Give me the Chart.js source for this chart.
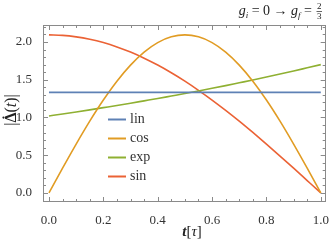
<!DOCTYPE html>
<html>
<head>
<meta charset="utf-8">
<script src="https://cdn.jsdelivr.net/npm/chart.js@4"></script>
<style>
  html, body { margin: 0; padding: 0; background: #fff; }
  #wrap { width: 332px; height: 243px; position: relative; }
</style>
</head>
<body>
<div id="wrap"><canvas id="chart"></canvas></div>
<script>
// time axis (in units of tau)
const tValues = [0, 0.05, 0.1, 0.15, 0.2, 0.25, 0.3, 0.35, 0.4, 0.45, 0.5,
                 0.55, 0.6, 0.65, 0.7, 0.75, 0.8, 0.85, 0.9, 0.95, 1];

// |dDelta/dt| for the four ramps
const linValues = [1.333, 1.333, 1.333, 1.333, 1.333, 1.333, 1.333, 1.333, 1.333, 1.333, 1.333,
                   1.333, 1.333, 1.333, 1.333, 1.333, 1.333, 1.333, 1.333, 1.333, 1.333];
const cosValues = [0, 0.328, 0.647, 0.951, 1.231, 1.481, 1.694, 1.866, 1.992, 2.068, 2.094,
                   2.068, 1.992, 1.866, 1.694, 1.481, 1.231, 0.951, 0.647, 0.328, 0];
const expValues = [1.02, 1.046, 1.073, 1.101, 1.13, 1.159, 1.189, 1.22, 1.251, 1.284, 1.317,
                   1.351, 1.386, 1.422, 1.459, 1.496, 1.535, 1.575, 1.616, 1.658, 1.7];
const sinValues = [2.094, 2.088, 2.068, 2.036, 1.992, 1.935, 1.866, 1.785, 1.694, 1.592, 1.481,
                   1.36, 1.231, 1.094, 0.951, 0.801, 0.647, 0.489, 0.328, 0.164, 0];

const seriesNames = ["lin", "cos", "exp", "sin"];

// tick labels
const xTicks = [0, 0.2, 0.4, 0.6, 0.8, 1.0];
const yTicks = [0, 0.5, 1.0, 1.5, 2.0];
const xMinorStep = 0.05;
const yMinorStep = 0.1;

const colors = {
  lin: "#5E81B5",
  cos: "#E19C24",
  exp: "#8FB032",
  sin: "#EB6235"
};

const serif = "'Liberation Serif', 'DejaVu Serif', serif";
const textColor = "#333";

const seriesData = { lin: linValues, cos: cosValues, exp: expValues, sin: sinValues };

const datasets = seriesNames.map(name => ({
  label: name,
  data: tValues.map((t, i) => ({ x: t, y: seriesData[name][i] })),
  borderColor: colors[name],
  backgroundColor: colors[name],
  borderWidth: 1.6,
  pointRadius: 0,
  fill: false,
  cubicInterpolationMode: "monotone"
}));

// draw a row of differently styled text pieces
function drawRuns(ctx, runs, x, y, align) {
  let total = 0;
  runs.forEach(r => { ctx.font = r.font; r.w = ctx.measureText(r.text).width; total += r.w; });
  let cx = align === "right" ? x - total : align === "center" ? x - total / 2 : x;
  runs.forEach(r => {
    ctx.font = r.font;
    ctx.fillText(r.text, cx, y + (r.dy || 0));
    if (r.dot) {
      ctx.beginPath();
      ctx.arc(cx + r.w / 2, y - 12.5, 1.1, 0, Math.PI * 2);
      ctx.fill();
    }
    cx += r.w;
  });
  return total;
}

const framePlugin = {
  id: "frame",
  afterDraw(chart) {
    const { ctx, chartArea: a, scales } = chart;
    const xs = scales.x, ys = scales.y;
    ctx.save();

    // frame
    ctx.strokeStyle = "#8a8a8a";
    ctx.lineWidth = 1;
    ctx.strokeRect(Math.round(a.left) + 0.5, Math.round(a.top) + 0.5,
                   Math.round(a.right - a.left) - 1, Math.round(a.bottom - a.top) - 1);

    // inward ticks on all four sides
    ctx.beginPath();
    for (let v = 0; v <= 1.0001; v += xMinorStep) {
      const major = Math.abs(v / 0.2 - Math.round(v / 0.2)) < 1e-6;
      const len = major ? 5 : 3;
      const px = Math.round(xs.getPixelForValue(v)) + 0.5;
      ctx.moveTo(px, a.bottom); ctx.lineTo(px, a.bottom - len);
      ctx.moveTo(px, a.top); ctx.lineTo(px, a.top + len);
    }
    for (let v = 0; v <= 2.2001; v += yMinorStep) {
      const major = Math.abs(v / 0.5 - Math.round(v / 0.5)) < 1e-6;
      const len = major ? 5 : 3;
      const py = Math.round(ys.getPixelForValue(v)) + 0.5;
      ctx.moveTo(a.left, py); ctx.lineTo(a.left + len, py);
      ctx.moveTo(a.right, py); ctx.lineTo(a.right - len, py);
    }
    ctx.stroke();

    // legend inside the plot
    ctx.textBaseline = "middle";
    ctx.fillStyle = textColor;
    chart.data.datasets.forEach((ds, i) => {
      const y = 119.5 + 19 * i;
      ctx.strokeStyle = ds.borderColor;
      ctx.lineWidth = 2;
      ctx.beginPath();
      ctx.moveTo(108, y); ctx.lineTo(126, y);
      ctx.stroke();
      ctx.font = "14px " + serif;
      ctx.fillText(ds.label, 130, y);
    });

    ctx.textBaseline = "alphabetic";
    ctx.fillStyle = "#222";

    // x axis title: t[tau]
    drawRuns(ctx, [
      { text: "t", font: "italic bold 15px " + serif },
      { text: "[", font: "15px " + serif },
      { text: "\u03c4", font: "italic 15px " + serif },
      { text: "]", font: "15px " + serif }
    ], 192, 236, "center");

    // y axis title: |Delta-dot(t)|
    ctx.save();
    ctx.translate(16, 110);
    ctx.rotate(-Math.PI / 2);
    drawRuns(ctx, [
      { text: "|", font: "16px " + serif },
      { text: "\u0394", font: "bold 16px " + serif, dot: true },
      { text: "(", font: "16px " + serif },
      { text: "t", font: "italic 16px " + serif },
      { text: ")", font: "16px " + serif },
      { text: "|", font: "16px " + serif }
    ], 0, 0, "center");
    ctx.restore();

    // title in the top right corner
    ctx.font = "9px " + serif;
    const fracW = Math.max(ctx.measureText("2").width, ctx.measureText("3").width) + 1;
    const right = 322;
    const fx = right - fracW;
    ctx.textAlign = "center";
    ctx.fillText("2", fx + fracW / 2, 9);
    ctx.fillText("3", fx + fracW / 2, 19);
    ctx.textAlign = "left";
    ctx.strokeStyle = "#222";
    ctx.lineWidth = 0.7;
    ctx.beginPath();
    ctx.moveTo(fx, 11.5); ctx.lineTo(fx + fracW, 11.5);
    ctx.stroke();
    drawRuns(ctx, [
      { text: "g", font: "italic 14px " + serif },
      { text: "i", font: "italic 9px " + serif, dy: 3 },
      { text: " = 0 \u2192 ", font: "14px " + serif },
      { text: "g", font: "italic 14px " + serif },
      { text: "f", font: "italic 9px " + serif, dy: 3 },
      { text: " = ", font: "14px " + serif }
    ], fx - 1, 15, "right");

    ctx.restore();
  }
};

new Chart(document.getElementById("chart").getContext("2d"), {
  type: "line",
  data: { datasets },
  options: {
    responsive: true,
    maintainAspectRatio: false,
    animation: false,
    layout: { padding: { top: 25, right: 5, left: 0, bottom: 0 } },
    plugins: {
      legend: { display: false },
      tooltip: { enabled: false }
    },
    scales: {
      x: {
        type: "linear",
        min: -0.022,
        max: 1.018,
        afterBuildTicks: scale => { scale.ticks = xTicks.map(v => ({ value: v })); },
        afterFit: scale => { scale.height = 41; },
        ticks: {
          padding: 3,
          color: textColor,
          font: { family: serif, size: 13 },
          maxRotation: 0,
          callback: v => v.toFixed(1)
        },
        grid: { display: false },
        border: { display: false }
      },
      y: {
        type: "linear",
        min: -0.12,
        max: 2.225,
        afterBuildTicks: scale => { scale.ticks = yTicks.map(v => ({ value: v })); },
        afterFit: scale => { scale.width = 43; },
        ticks: {
          padding: 3,
          color: textColor,
          font: { family: serif, size: 13 },
          callback: v => v.toFixed(1)
        },
        grid: { display: false },
        border: { display: false }
      }
    }
  },
  plugins: [framePlugin]
});
</script>
</body>
</html>
